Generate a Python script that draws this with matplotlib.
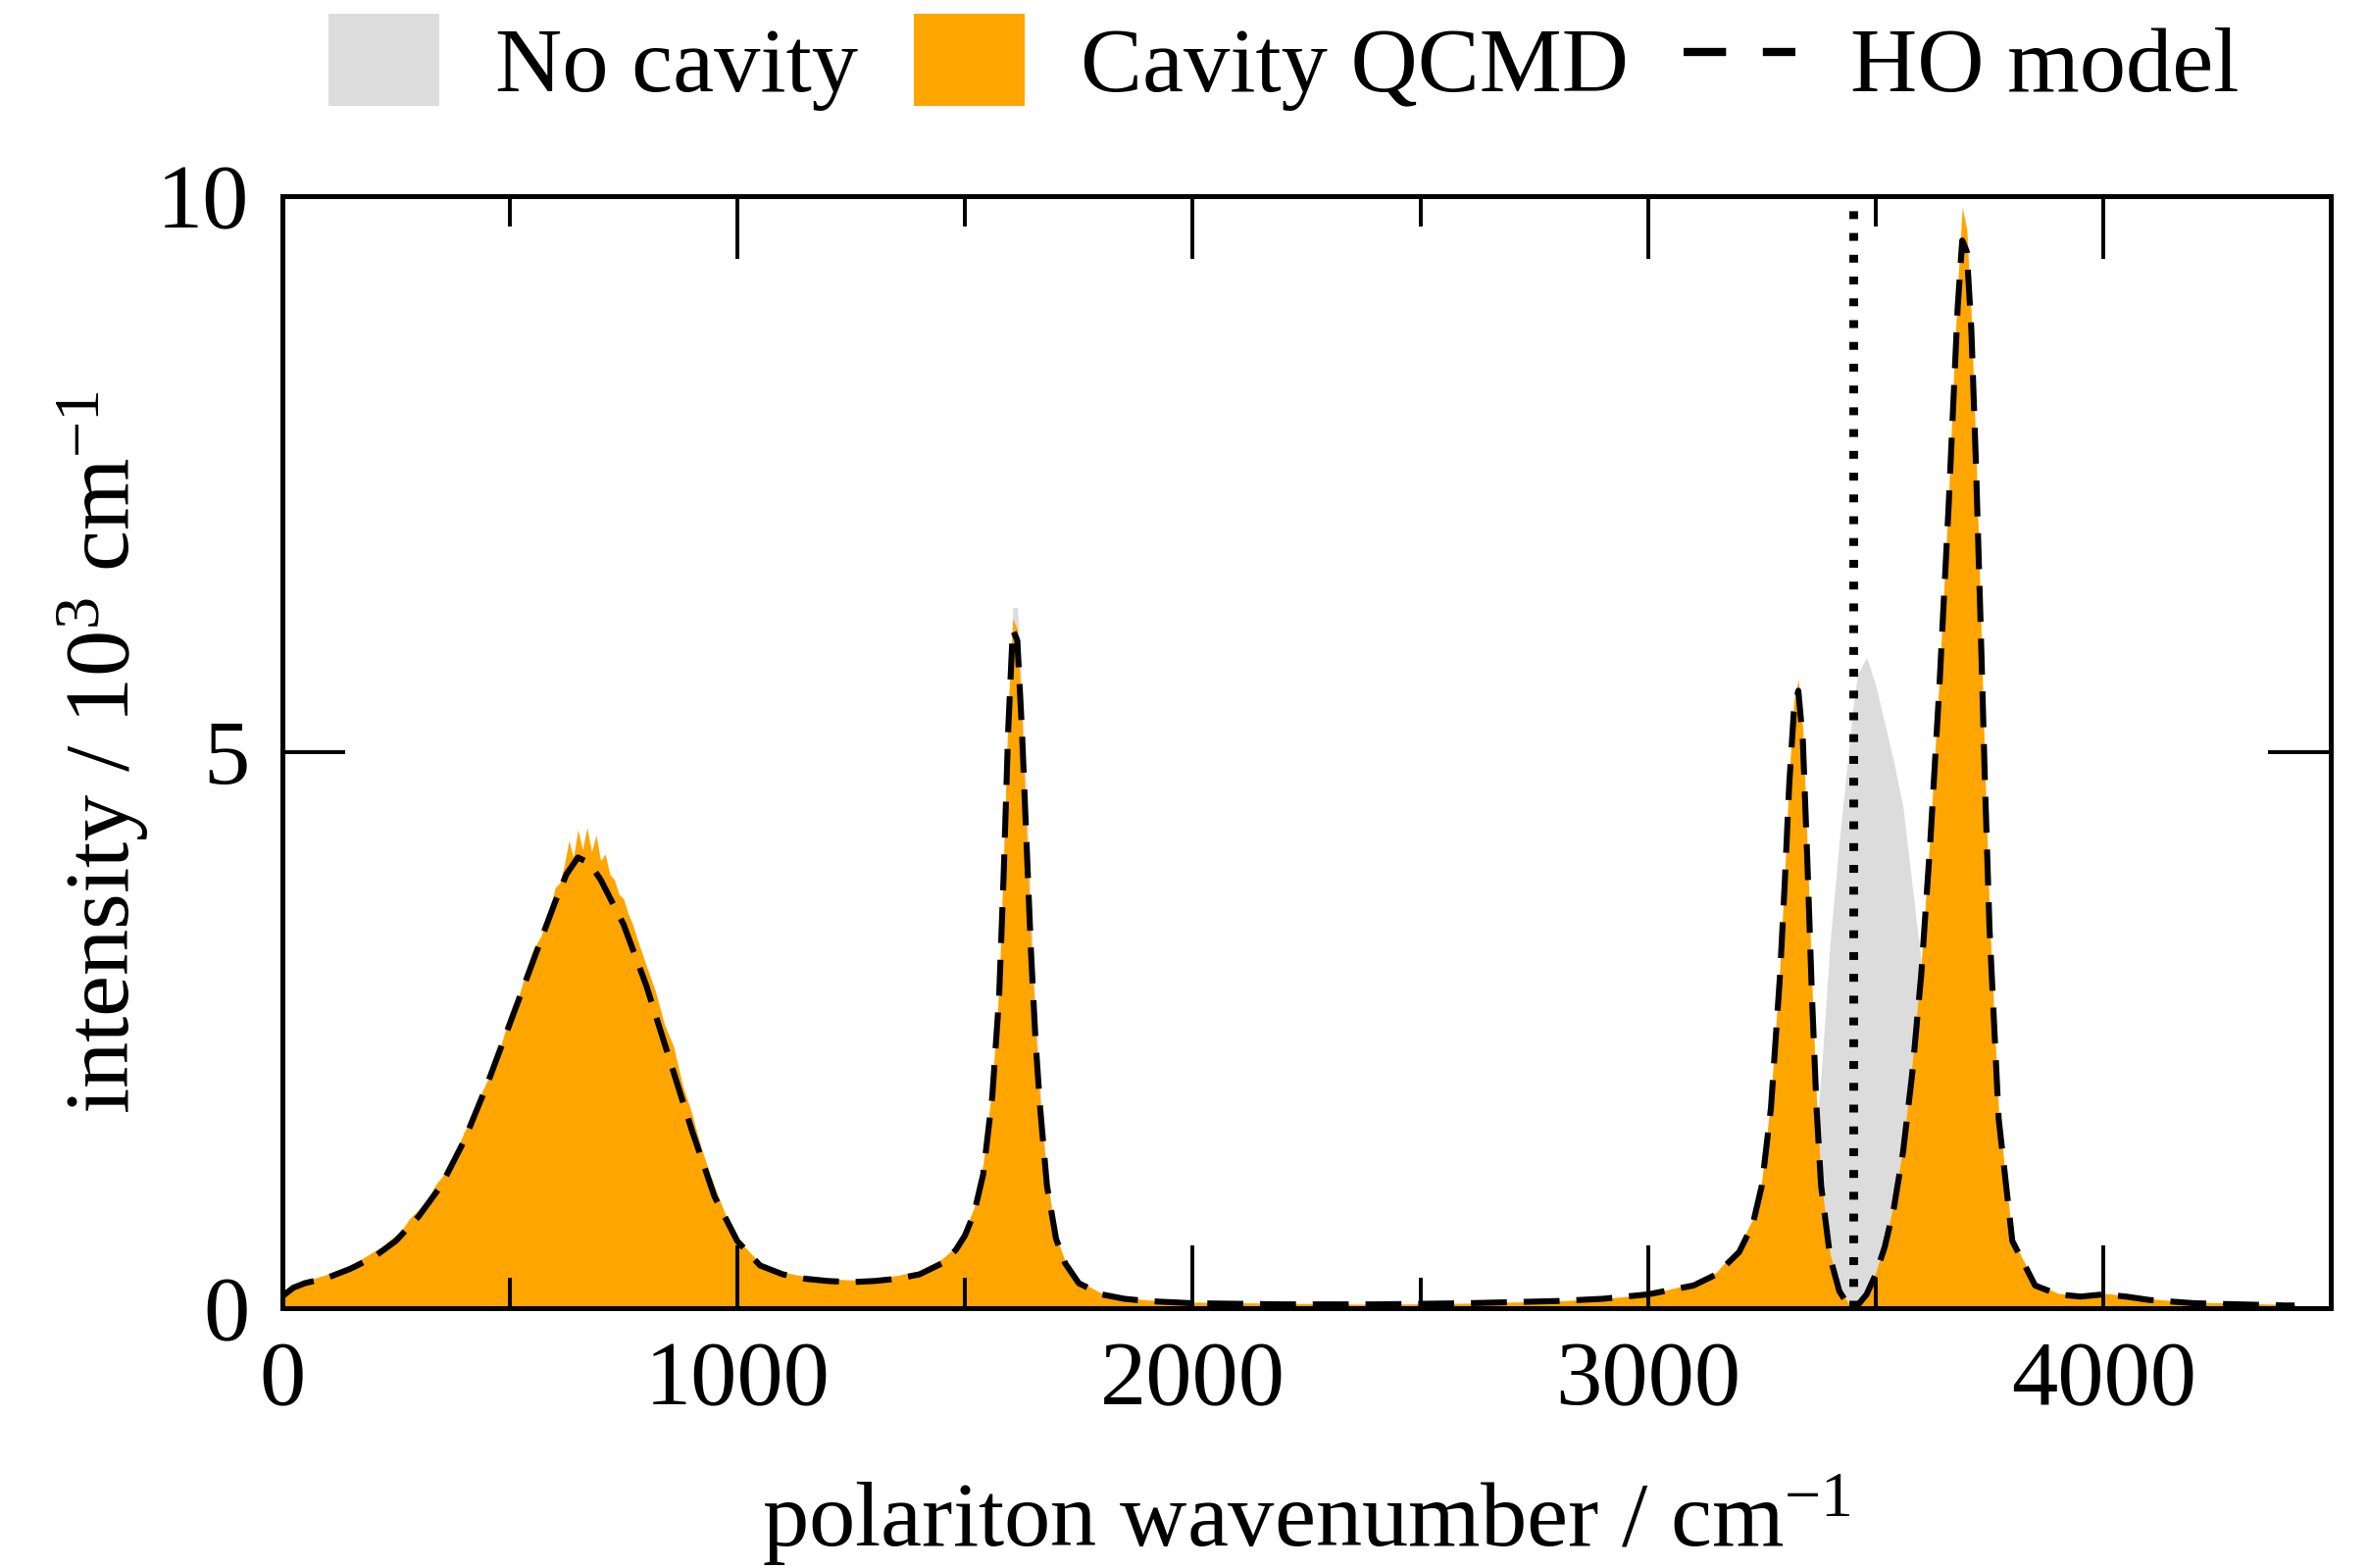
import matplotlib
matplotlib.use("Agg")
import matplotlib.pyplot as plt
from matplotlib.patches import Patch
from matplotlib.lines import Line2D

plt.rcParams["font.family"] = ["Liberation Serif", "DejaVu Serif"]
plt.rcParams["mathtext.fontset"] = "custom"
plt.rcParams["mathtext.rm"] = "Liberation Serif"
plt.rcParams["mathtext.it"] = "Liberation Serif:italic"

# HO model (dashed line)
ho_x = [0, 25, 50, 100, 150, 200, 250, 300, 350, 400, 450, 500, 550, 600, 625, 650, 675, 700, 750, 800,
        850, 900, 950, 1000, 1050, 1100, 1150, 1200, 1250, 1300, 1350, 1400, 1450, 1480, 1500, 1520, 1540,
        1560, 1575, 1585, 1595, 1605, 1615, 1625, 1635, 1645, 1655, 1665, 1680, 1700, 1720, 1750, 1800,
        1850, 1900, 2000, 2200, 2400, 2600, 2800, 2900, 3000, 3100, 3150, 3200, 3230, 3250, 3270, 3290,
        3300, 3310, 3320, 3330, 3340, 3350, 3360, 3370, 3380, 3400, 3420, 3440, 3450, 3460, 3480, 3500,
        3520, 3540, 3560, 3580, 3600, 3620, 3640, 3660, 3670, 3680, 3690, 3700, 3710, 3720, 3730, 3740,
        3750, 3770, 3800, 3850, 3900, 3950, 4000, 4050, 4100, 4200, 4300, 4400, 4420]
ho_y = [0.10, 0.18, 0.22, 0.27, 0.35, 0.45, 0.60, 0.82, 1.10, 1.50, 2.00, 2.55, 3.10, 3.65, 3.90, 4.05, 4.00,
        3.85, 3.45, 2.90, 2.25, 1.60, 1.00, 0.60, 0.38, 0.30, 0.26, 0.24, 0.23, 0.24, 0.26, 0.30, 0.40, 0.52,
        0.65, 0.85, 1.20, 1.90, 2.80, 3.90, 5.20, 6.10, 6.00, 5.20, 4.20, 3.20, 2.40, 1.80, 1.10, 0.62, 0.40,
        0.22, 0.12, 0.08, 0.06, 0.04, 0.03, 0.03, 0.04, 0.06, 0.08, 0.12, 0.20, 0.30, 0.50, 0.75, 1.10, 1.80,
        3.00, 3.80, 4.70, 5.35, 5.55, 5.10, 4.00, 2.80, 1.80, 1.10, 0.45, 0.15, 0.02, 0.00, 0.02, 0.12, 0.30,
        0.55, 0.90, 1.40, 2.10, 3.00, 4.20, 5.60, 7.20, 8.10, 9.00, 9.60, 9.50, 8.80, 7.60, 6.20, 4.70, 3.40,
        1.70, 0.60, 0.20, 0.12, 0.10, 0.12, 0.10, 0.07, 0.04, 0.03, 0.02, 0.02]

# Cavity QCMD (orange fill)
cav_x = [0, 25, 50, 100, 150, 200, 220, 240, 260, 280, 300, 320, 340, 360, 380, 400, 420, 440, 460, 480,
         500, 520, 540, 550, 560, 570, 580, 590, 600, 610, 620, 630, 640, 650, 660, 670, 680, 690, 700, 710,
         720, 730, 740, 750, 760, 770, 780, 790, 800, 820, 840, 860, 880, 900, 920, 940, 960, 980, 1000,
         1050, 1100, 1150, 1200, 1250, 1300, 1350, 1400, 1450, 1480, 1500, 1520, 1540, 1560, 1575, 1585,
         1595, 1605, 1615, 1625, 1635, 1645, 1655, 1665, 1680, 1700, 1720, 1750, 1800, 1850, 1900, 2000,
         2200, 2400, 2600, 2800, 2900, 3000, 3100, 3150, 3200, 3230, 3250, 3270, 3290, 3300, 3310, 3320,
         3330, 3340, 3350, 3360, 3370, 3380, 3400, 3420, 3440, 3450, 3460, 3480, 3500, 3520, 3540, 3560,
         3580, 3600, 3620, 3640, 3660, 3670, 3680, 3690, 3700, 3710, 3720, 3730, 3740, 3750, 3770, 3800,
         3850, 3900, 3950, 4000, 4050, 4100, 4200, 4300, 4400, 4420]
cav_y = [0.12, 0.20, 0.24, 0.30, 0.38, 0.50, 0.55, 0.62, 0.68, 0.80, 0.88, 0.98, 1.12, 1.22, 1.38, 1.58,
         1.72, 1.95, 2.12, 2.35, 2.62, 2.80, 3.08, 3.20, 3.28, 3.35, 3.52, 3.60, 3.78, 3.82, 3.98, 4.20,
         4.05, 4.30, 4.12, 4.32, 4.10, 4.25, 4.02, 4.08, 3.90, 3.85, 3.72, 3.68, 3.55, 3.45, 3.32, 3.20,
         3.08, 2.85, 2.55, 2.35, 2.00, 1.75, 1.45, 1.20, 0.98, 0.78, 0.62, 0.40, 0.32, 0.28, 0.26, 0.25,
         0.26, 0.29, 0.33, 0.44, 0.55, 0.70, 0.90, 1.30, 2.00, 2.90, 4.10, 5.40, 6.20, 6.10, 5.30, 4.30,
         3.30, 2.50, 1.85, 1.15, 0.64, 0.42, 0.24, 0.13, 0.09, 0.07, 0.05, 0.04, 0.03, 0.04, 0.06, 0.08,
         0.12, 0.22, 0.32, 0.55, 0.80, 1.15, 1.90, 3.10, 3.90, 4.80, 5.45, 5.65, 5.20, 4.10, 2.90, 1.85,
         1.15, 0.48, 0.17, 0.04, 0.02, 0.04, 0.14, 0.32, 0.58, 0.95, 1.45, 2.20, 3.10, 4.30, 5.70, 7.30,
         8.30, 9.20, 9.90, 9.70, 8.90, 7.70, 6.30, 4.80, 3.50, 1.75, 0.62, 0.22, 0.13, 0.11, 0.13, 0.11,
         0.08, 0.05, 0.04, 0.03, 0.03]

# No cavity (grey fill)
nocav_x = ho_x
nocav_y = [0.10, 0.18, 0.22, 0.27, 0.35, 0.45, 0.60, 0.82, 1.10, 1.50, 2.00, 2.55, 3.10, 3.65, 3.90, 4.05,
           4.00, 3.88, 3.50, 2.95, 2.30, 1.62, 1.02, 0.60, 0.38, 0.30, 0.26, 0.24, 0.23, 0.24, 0.26, 0.30,
           0.40, 0.52, 0.65, 0.85, 1.20, 1.90, 2.80, 3.90, 5.40, 6.30, 6.30, 5.60, 4.60, 3.60, 2.70, 2.00,
           1.20, 0.65, 0.40, 0.22, 0.12, 0.08, 0.06, 0.04, 0.03, 0.03, 0.04, 0.06, 0.08, 0.12, 0.18, 0.24,
           0.30, 0.35, 0.40, 0.45, 0.50, 0.55, 0.60, 0.65, 0.70, 0.80, 0.95, 1.20, 1.60, 2.10, 3.30, 4.20,
           5.00, 5.40, 5.70, 5.85, 5.60, 5.25, 4.90, 4.50, 3.80, 3.10, 2.30, 1.60, 1.00, 0.80, 0.60, 0.45,
           0.35, 0.28, 0.22, 0.18, 0.15, 0.13, 0.10, 0.08, 0.06, 0.05, 0.05, 0.06, 0.05, 0.04, 0.03, 0.02,
           0.02, 0.02]

cavity_freq = 3450

x_ticks = [0, 1000, 2000, 3000, 4000]
y_ticks = [0, 5, 10]

ORANGE = "#FFA500"
GREY = "#DCDCDC"
FS = 34

fig = plt.figure(figsize=(12.08, 7.995), dpi=200)
ax = fig.add_axes([0.119, 0.166, 0.865, 0.709])

ax.fill_between(nocav_x, 0, nocav_y, color=GREY, lw=0)
ax.fill_between(cav_x, 0, cav_y, color=ORANGE, lw=0)
ax.plot(ho_x, ho_y, color="black", lw=2.2, dashes=(6, 2.8))
ax.plot([cavity_freq, cavity_freq], [0, 10], color="black", lw=3.2, dashes=(0.9, 1.6))

ax.set_xlim(0, 4500)
ax.set_ylim(0, 10)
ax.set_xticks(x_ticks)
ax.set_xticks([500, 1500, 2500, 3500, 4500], minor=True)
ax.set_yticks(y_ticks)
ax.tick_params(which="both", direction="in", top=True, right=True, width=1.4, labelsize=FS)
ax.tick_params(which="major", length=23)
ax.tick_params(which="minor", length=11)
ax.tick_params(axis="x", pad=12)
ax.tick_params(axis="y", pad=12)
for s in ax.spines.values():
    s.set_linewidth(1.8)

ax.set_xlabel("polariton wavenumber / cm$^{-1}$", fontsize=FS)
ax.set_ylabel("intensity / 10$^{3}$ cm$^{-1}$", fontsize=FS)
ax.xaxis.set_label_coords(0.5, -0.148)
ax.yaxis.set_label_coords(-0.064, 0.5)

handles = [Patch(facecolor=GREY, edgecolor="none"),
           Patch(facecolor=ORANGE, edgecolor="none"),
           Line2D([], [], color="black", lw=3.0, dashes=(5.2, 4.5))]
fig.legend(handles, ["No cavity", "Cavity QCMD", "HO model"], loc="upper center",
           bbox_to_anchor=(0.542, 1.015), ncol=3, frameon=False, fontsize=FS,
           handlelength=1.2, handleheight=1.15, columnspacing=0.6, handletextpad=0.6,
           borderaxespad=0.0)

fig.savefig("out.png", dpi=200)
